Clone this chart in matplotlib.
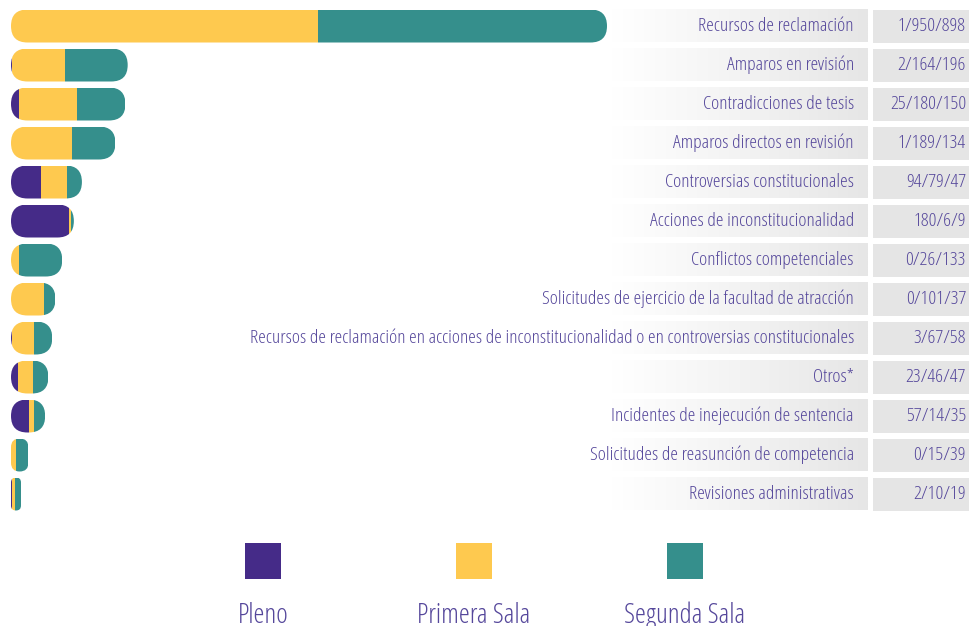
import numpy as np
import matplotlib
matplotlib.use('Agg')
import matplotlib.pyplot as plt
from matplotlib.patches import FancyBboxPatch, Rectangle
from matplotlib.colors import LinearSegmentedColormap

categories = [
    'Recursos de reclamación',
    'Amparos en revisión',
    'Contradicciones de tesis',
    'Amparos directos en revisión',
    'Controversias constitucionales',
    'Acciones de inconstitucionalidad',
    'Conflictos competenciales',
    'Solicitudes de ejercicio de la facultad de atracción',
    'Recursos de reclamación en acciones de inconstitucionalidad o en controversias constitucionales',
    'Otros*',
    'Incidentes de inejecución de sentencia',
    'Solicitudes de reasunción de competencia',
    'Revisiones administrativas',
]
pleno = [1, 2, 25, 1, 94, 180, 0, 0, 3, 23, 57, 0, 2]
primera = [950, 164, 180, 189, 79, 6, 26, 101, 67, 46, 14, 15, 10]
segunda = [898, 196, 150, 134, 47, 9, 133, 37, 58, 47, 35, 39, 19]
series_names = ['Pleno', 'Primera Sala', 'Segunda Sala']

colors = ['#452b88', '#fec94f', '#358f8c']
txt_color = '#55479b'
plt.rcParams['font.family'] = ['Open Sans', 'DejaVu Sans']
plt.rcParams['font.stretch'] = 'condensed'
plt.rcParams['font.weight'] = 300

W, H = 969, 626
fig = plt.figure(figsize=(W / 100, H / 100), dpi=100)

n = len(categories)
row_px = 39
top_px = 26 - row_px / 2
bar_h = 33 / row_px
ax_h_px = n * row_px
bar_left_px, bar_w_px = 11, 596

ax = fig.add_axes([bar_left_px / W, 1 - (top_px + ax_h_px) / H, bar_w_px / W, ax_h_px / H])
totals = np.array(pleno) + np.array(primera) + np.array(segunda)
xmax = totals.max()
ax.set_xlim(0, xmax)
ax.set_ylim(n - 0.5, -0.5)
ax.axis('off')

xpp = xmax / bar_w_px       # data units per pixel, x
ypp = n / ax_h_px           # data units per pixel, y
y = np.arange(n)

left = np.zeros(n)
bars = []
for vals, c in zip([pleno, primera, segunda], colors):
    b = ax.barh(y, vals, left=left, height=bar_h, color=c, linewidth=0)
    bars.append(b)
    left += np.array(vals)

# rounded caps: clip each row to a pill shape
for i in range(n):
    w_px = totals[i] / xpp
    r_px = min(w_px, 33) / 2
    clip = FancyBboxPatch((0, i - bar_h / 2), totals[i], bar_h,
                          boxstyle=f'round,pad=0,rounding_size={r_px * xpp}',
                          mutation_aspect=ypp / xpp,
                          transform=ax.transData, facecolor='none', edgecolor='none')
    ax.add_patch(clip)
    for b in bars:
        b[i].set_clip_path(clip)

# label column
ax2 = fig.add_axes([0, 1 - (top_px + ax_h_px) / H, 1, ax_h_px / H])
ax2.set_xlim(0, W)
ax2.set_ylim(n - 0.5, -0.5)
ax2.axis('off')
grad = LinearSegmentedColormap.from_list('g', ['#ffffff', '#f3f3f3', '#e6e6e6'])
g = np.linspace(0, 1, 256).reshape(1, -1)
for i, cat in enumerate(categories):
    ax2.imshow(g, cmap=grad, extent=[612, 868, i + bar_h / 2, i - bar_h / 2],
               aspect='auto', zorder=1)
    ax2.add_patch(Rectangle((873, i - bar_h / 2), 96, bar_h, color='#e5e5e5', lw=0, zorder=1))
    ax2.text(854, i, cat, ha='right', va='center', fontsize=14, color=txt_color, zorder=3)
    ax2.text(966, i, f'{pleno[i]}/{primera[i]}/{segunda[i]}', ha='right', va='center',
             fontsize=14, color=txt_color, zorder=3)
ax2.set_xlim(0, W)
ax2.set_ylim(n - 0.5, -0.5)

# legend
ax3 = fig.add_axes([0, 0, 1, 100 / H])
ax3.set_xlim(0, W)
ax3.set_ylim(100, 0)
ax3.axis('off')
leg_x = [263, 474, 685]
for cx, name, c in zip(leg_x, series_names, colors):
    ax3.add_patch(Rectangle((cx - 18, 17), 36, 36, color=c, lw=0))
    ax3.text(cx, 90, name, ha='center', va='center', fontsize=20, color=txt_color)

fig.savefig('out.png', dpi=100)
